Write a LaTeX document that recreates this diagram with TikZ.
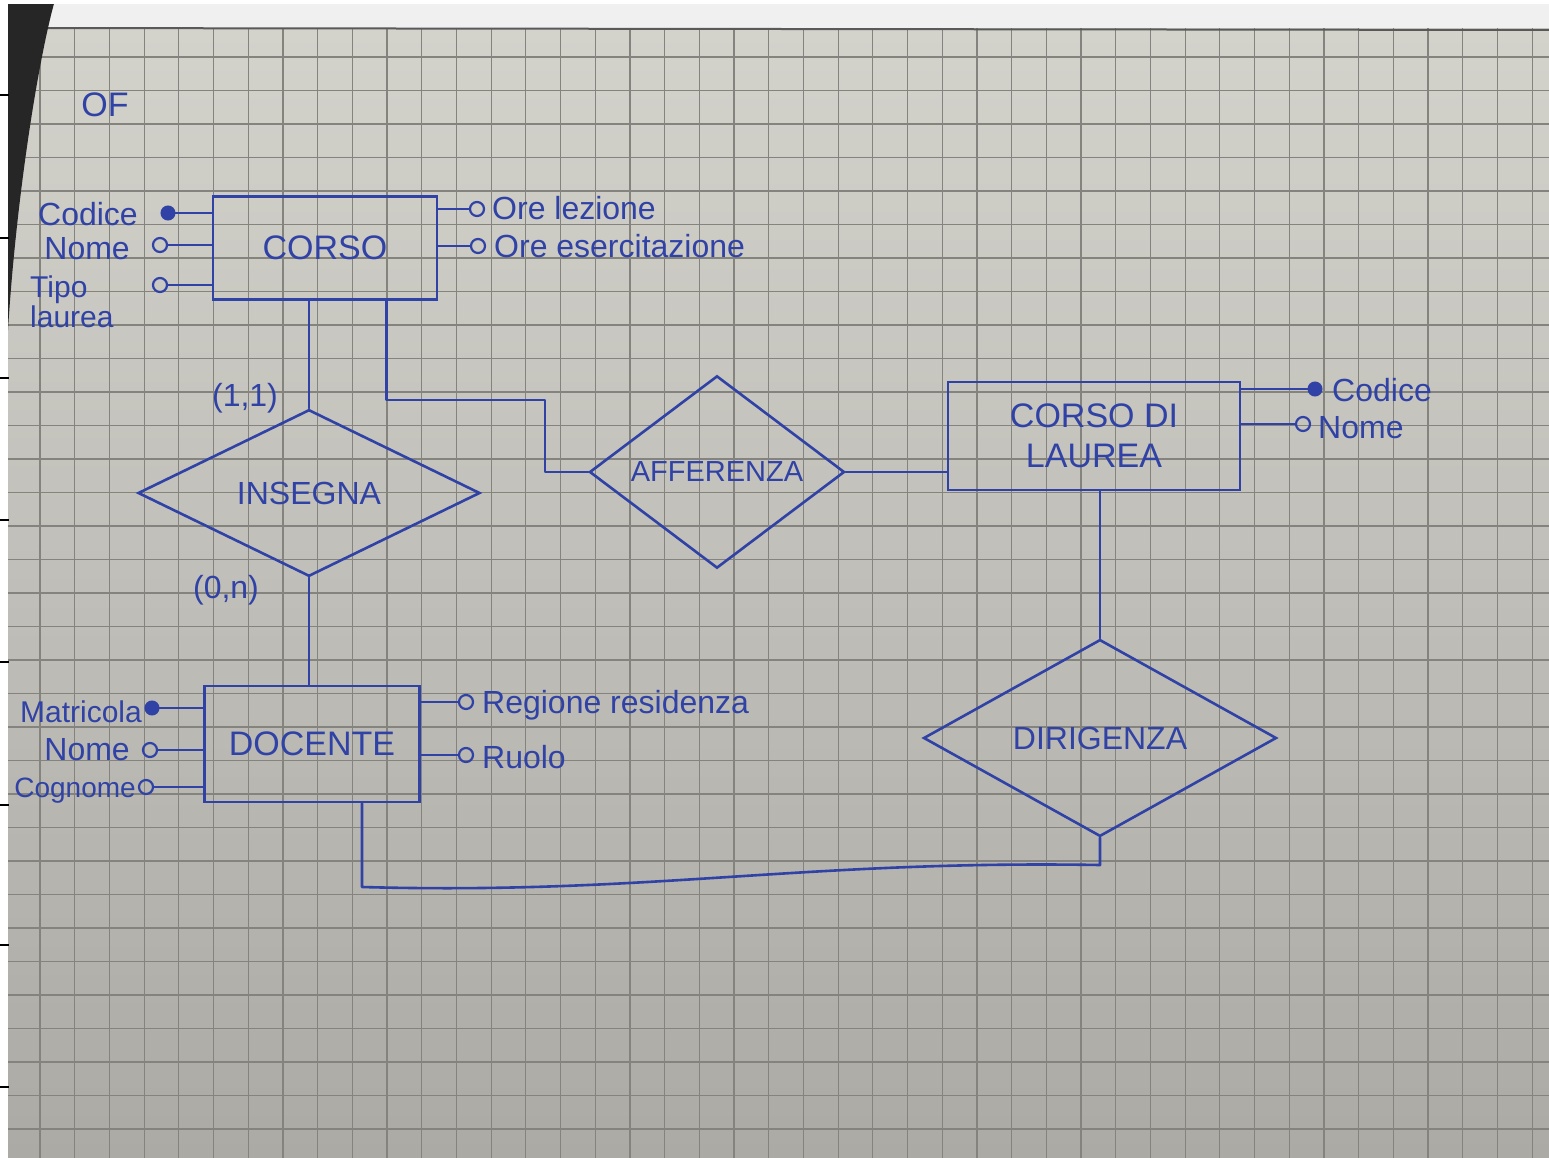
\documentclass[tikz,border=0pt]{standalone}
\usepackage{fontspec}
\setmainfont{Liberation Sans}
\usetikzlibrary{shapes.geometric,calc}
\definecolor{ink}{RGB}{48,66,165}
\definecolor{paperTop}{RGB}{212,211,204}
\definecolor{paperBot}{RGB}{172,170,165}
\definecolor{gridc}{RGB}{132,131,125}
\begin{document}
\begin{tikzpicture}[x=1pt,y=-1pt,
  link/.style={draw=ink,line width=2.6pt,line cap=round,line join=round},
  entity/.style={draw=ink,line width=2.6pt,rectangle,inner sep=0pt,text=ink,
    font=\fontsize{34}{40}\selectfont,align=center},
  rel/.style={draw=ink,line width=2.6pt,diamond,inner sep=0pt,text=ink,
    font=\fontsize{32}{36}\selectfont},
  keyattr/.style={circle,draw=ink,fill=ink,line width=2pt,minimum size=13pt,inner sep=0pt},
  attr/.style={circle,draw=ink,line width=2.2pt,minimum size=14pt,inner sep=0pt},
  lbl/.style={text=ink,inner sep=0pt,font=\fontsize{32}{34}\selectfont}]

\useasboundingbox (0,0) rectangle (1549,1158);

% paper and squared grid
\shade[top color=paperTop,bottom color=paperBot] (0,0) rectangle (1549,1158);
\foreach \i in {0,...,43}
  \draw[gridc,line width=1.2pt] ({40+34.7*\i},0) -- ({40+34.7*\i},1158);
\foreach \j in {-7,...,27}
  \draw[gridc,line width=1.2pt] (8,{928-33.5*\j}) -- (1549,{928-33.5*\j});

% curled page edge at the top and notebook cover at the left
\fill[white!88!gray] (8,4) rectangle (1549,28);
\draw[gray!70!black,line width=2pt] (8,28) -- (1549,30);
\fill[black!85] (8,0) -- (55,0) .. controls (38,60) and (16,200) .. (8,330) -- cycle;
\fill[white] (0,0) rectangle (8,1158);
\fill[white] (0,0) rectangle (1549,4);
\foreach \t in {95,238,378,520,662,805,945,1087}
  \draw[black,line width=1.5pt] (0,\t) -- (9,\t);

\node[lbl,font=\fontsize{34}{36}\selectfont] (of) at (105,105) {OF};

% ---- CORSO ----
\node[entity,minimum width=224pt,minimum height=103pt] (corso) at (325,248) {CORSO};
\node[keyattr] (ccod) at (168,213) {};
\node[attr] (cnom) at (160,245) {};
\node[attr] (ctip) at (160,285) {};
\draw[link] (ccod) -- (ccod -| corso.west);
\draw[link] (cnom) -- (cnom -| corso.west);
\draw[link] (ctip) -- (ctip -| corso.west);
\node[lbl,anchor=east] (lccod) at (138,214) {Codice};
\node[lbl,anchor=east] (lcnom) at (130,249) {Nome};
\node[lbl,anchor=north west,align=left,font=\fontsize{30}{30}\selectfont] (lctip) at (30,276) {Tipo\\laurea};
\node[attr] (col) at (477,209) {};
\node[attr] (coe) at (478,246) {};
\draw[link] (col -| corso.east) -- (col);
\draw[link] (coe -| corso.east) -- (coe);
\node[lbl,anchor=west] (lcol) at (492,208) {Ore lezione};
\node[lbl,anchor=west] (lcoe) at (494,246) {Ore esercitazione};

% ---- INSEGNA ----
\node[rel,minimum width=342pt,minimum height=140pt] (insegna) at (309,493) {INSEGNA};
\draw[link] (insegna.north |- corso.south) -- (insegna.north);
\node[lbl] (card1) at (245,398) {(1,1)};
\node[lbl] (card2) at (226,590) {(0,n)};

% ---- DOCENTE ----
\node[entity,minimum width=215pt,minimum height=116pt] (docente) at (312,744) {DOCENTE};
\draw[link] (insegna.south) -- (insegna.south |- docente.north);
\node[keyattr] (dmat) at (152,708) {};
\node[attr] (dnom) at (150,750) {};
\node[attr] (dcog) at (146,787) {};
\draw[link] (dmat) -- (dmat -| docente.west);
\draw[link] (dnom) -- (dnom -| docente.west);
\draw[link] (dcog) -- (dcog -| docente.west);
\node[lbl,anchor=east,font=\fontsize{30}{32}\selectfont] (ldmat) at (142,712) {Matricola};
\node[lbl,anchor=east] (ldnom) at (130,750) {Nome};
\node[lbl,anchor=east,font=\fontsize{28}{30}\selectfont] (ldcog) at (136,791) {Cognome};
\node[attr] (dreg) at (466,702) {};
\node[attr] (druo) at (466,755) {};
\draw[link] (dreg -| docente.east) -- (dreg);
\draw[link] (druo -| docente.east) -- (druo);
\node[lbl,anchor=west] (ldreg) at (482,705) {Regione residenza};
\node[lbl,anchor=west] (lduo) at (482,757) {Ruolo};

% ---- AFFERENZA ----
\node[rel,minimum width=255pt,minimum height=141pt,font=\fontsize{29}{32}\selectfont] (afferenza) at (717,472) {AFFERENZA};
\coordinate (aff1) at (545,400);
\draw[link] ([xshift=-52pt]corso.south east) |- (aff1) |- (afferenza.west);

% ---- CORSO DI LAUREA ----
\node[entity,minimum width=292pt,minimum height=108pt] (cdl) at (1094,436) {CORSO DI\\LAUREA};
\draw[link] (afferenza.east) -- (afferenza.east -| cdl.west);
\node[keyattr] (lcod) at (1315,389) {};
\node[attr] (lnom) at (1303,424) {};
\draw[link] (lcod -| cdl.east) -- (lcod);
\draw[link] (lnom -| cdl.east) -- (lnom);
\node[lbl,anchor=west] (llcod) at (1332,390) {Codice};
\node[lbl,anchor=west] (llnom) at (1318,428) {Nome};

% ---- DIRIGENZA ----
\node[rel,minimum width=353pt,minimum height=120pt] (dirigenza) at (1100,738) {DIRIGENZA};
\draw[link] (cdl.south -| dirigenza.north) -- (dirigenza.north);
\coordinate (dir1) at (362,887);
\coordinate (dir2) at (dirigenza.south |- 0,865);
\draw[link] ([xshift=50pt]docente.south) -- (dir1)
  .. controls (650,895) and (800,860) .. (dir2) -- (dirigenza.south);

\end{tikzpicture}
\end{document}
